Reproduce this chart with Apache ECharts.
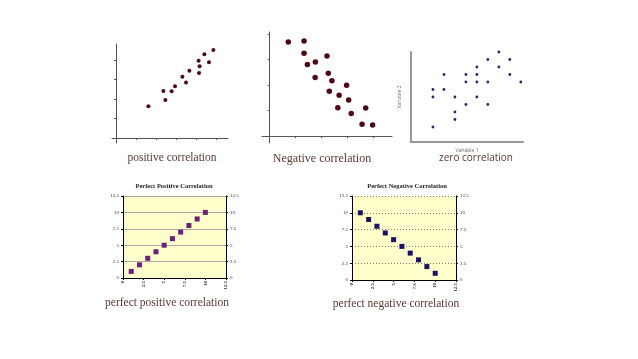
<!DOCTYPE html>
<html><head><meta charset="utf-8">
<script src="https://cdn.jsdelivr.net/npm/echarts@6/dist/echarts.min.js"></script>
<style>html,body{margin:0;padding:0;background:#fff}#c{width:638px;height:359px}</style>
</head><body><div id="c"></div>
<script>
// Chart 1: positive correlation
const posX = [1.62, 2.37, 2.47, 2.78, 2.95, 3.32, 3.50, 3.67, 4.13, 4.15, 4.18, 4.42, 4.65, 4.87];
const posY = [1.63, 2.41, 1.95, 2.39, 2.65, 3.14, 2.84, 3.45, 3.96, 3.33, 3.68, 4.29, 3.88, 4.51];
// Chart 2: negative correlation
const negX = [0.72, 1.33, 1.33, 1.46, 1.77, 1.76, 2.22, 2.27, 2.41, 2.31, 2.69, 2.98, 3.06, 2.64, 3.16, 3.72, 3.58, 3.99];
const negY = [3.69, 3.73, 3.25, 2.81, 2.90, 2.30, 3.14, 2.46, 2.17, 1.76, 1.60, 1.99, 1.42, 1.11, 0.89, 1.10, 0.46, 0.44];
// Chart 3: zero correlation
const zeroX = [8, 7, 9, 3, 5, 6, 8, 6, 9, 5, 6, 7, 10, 2, 3, 2, 4, 6, 5, 7, 4, 4, 2];
const zeroY = [12, 11, 11, 9, 9, 10, 10, 9, 9, 8, 8, 8, 8, 7, 7, 6, 6, 6, 5, 5, 4, 3, 2];
// Charts 4 & 5: perfect correlations
const perfX = [1, 2, 3, 4, 5, 6, 7, 8, 9, 10];
const perfPosY = [1, 2, 3, 4, 5, 6, 7, 8, 9, 10];
const perfNegY = [10, 9, 8, 7, 6, 5, 4, 3, 2, 1];
const perfTicks = [0, 2.5, 5, 7.5, 10, 12.5];
const sketchTicks1X = [1, 2, 3, 4, 5];
const sketchTicks1Y = [1, 2, 3, 4];
const sketchTicks2X = [1, 2, 3, 4];
const sketchTicks2Y = [1, 2, 3, 4];

const labels = {
  pos: 'positive correlation',
  neg: 'Negative correlation',
  zero: 'zero correlation',
  perfPos: 'perfect positive correlation',
  perfNeg: 'perfect negative correlation',
  titlePos: 'Perfect Positive Correlation',
  titleNeg: 'Perfect Negative Correlation',
  var1: 'Variable 1',
  var2: 'Variable 2'
};

const zip = (a, b) => a.map((v, i) => [v, b[i]]);
const textCol = '#5b3a33';
const serif = '"Liberation Serif", "DejaVu Serif", serif';

function sketchAxis(grid, min, max, ticks) {
  return {
    type: 'value', gridIndex: grid, min: min, max: max,
    axisLine: {show: true, onZero: true, lineStyle: {color: '#555', width: 1}},
    axisTick: {show: true, length: 2, inside: false, customValues: ticks, lineStyle: {color: '#555'}},
    axisLabel: {show: false},
    splitLine: {show: false}
  };
}

function perfAxisX(grid) {
  return {
    type: 'value', gridIndex: grid, min: 0, max: 12.5, interval: 2.5,
    axisLine: {show: true, lineStyle: {color: '#000'}},
    axisTick: {show: true, length: 2, lineStyle: {color: '#000'}},
    axisLabel: {show: true, rotate: 90, fontSize: 5, fontFamily: serif, fontWeight: 'bold', color: '#333', margin: 3,
      customValues: perfTicks, formatter: v => String(v)},
    splitLine: {show: false}
  };
}
function perfAxisY(grid, pos, dotted) {
  return {
    type: 'value', gridIndex: grid, min: 0, max: 12.5, interval: 2.5, position: pos,
    axisLine: {show: true, lineStyle: {color: '#000'}},
    axisTick: {show: true, length: 2, lineStyle: {color: '#000'}},
    axisLabel: {show: true, fontSize: 5, fontFamily: serif, color: '#333', margin: 4, customValues: perfTicks, formatter: v => String(v)},
    splitLine: {show: pos === 'left', lineStyle: dotted ? {color: '#777', type: [1, 2], width: 1} : {color: '#aaa', width: 1}}
  };
}

const chart = echarts.init(document.getElementById('c'), null, {renderer: 'canvas'});
chart.setOption({
  animation: false,
  backgroundColor: '#fff',
  grid: [
    {left: 112, top: 44, width: 116, height: 99, outerBoundsMode: 'none'},
    {left: 262, top: 32, width: 130, height: 111, outerBoundsMode: 'none'},
    {left: 411, top: 52, width: 112, height: 90, outerBoundsMode: 'none'},
    {left: 123, top: 196, width: 103, height: 82, show: true, backgroundColor: '#ffffcc', borderWidth: 0, outerBoundsMode: 'none'},
    {left: 352, top: 196, width: 104, height: 84, show: true, backgroundColor: '#ffffcc', borderWidth: 0, outerBoundsMode: 'none'}
  ],
  xAxis: [
    sketchAxis(0, -0.2, 5.6, sketchTicks1X),
    sketchAxis(1, -0.3, 4.74, sketchTicks2X),
    {type: 'value', gridIndex: 2, min: 0, max: 10.2,
      axisLine: {show: true, lineStyle: {color: '#999', width: 2}}, axisTick: {show: false}, axisLabel: {show: false}, splitLine: {show: false},
      name: labels.var1, nameLocation: 'middle', nameGap: 6, nameTextStyle: {fontSize: 5, color: '#666', fontFamily: '"Open Sans", sans-serif'}},
    perfAxisX(3),
    perfAxisX(4)
  ],
  yAxis: [
    sketchAxis(0, -0.26, 4.82, sketchTicks1Y),
    sketchAxis(1, -0.27, 4.08, sketchTicks2Y),
    {type: 'value', gridIndex: 2, min: 0, max: 12,
      axisLine: {show: true, lineStyle: {color: '#999', width: 2}}, axisTick: {show: false}, axisLabel: {show: false}, splitLine: {show: false},
      name: labels.var2, nameLocation: 'middle', nameGap: 9, nameRotate: 90, nameTextStyle: {fontSize: 5, color: '#666', fontFamily: '"Open Sans", sans-serif'}},
    perfAxisY(3, 'left', false),
    perfAxisY(3, 'right', false),
    perfAxisY(4, 'left', true),
    perfAxisY(4, 'right', true)
  ],
  series: [
    {type: 'scatter', xAxisIndex: 0, yAxisIndex: 0, data: zip(posX, posY), symbol: 'circle', symbolSize: 4, itemStyle: {color: '#4e0814', opacity: 1}},
    {type: 'scatter', xAxisIndex: 1, yAxisIndex: 1, data: zip(negX, negY), symbol: 'circle', symbolSize: 5.5, itemStyle: {color: '#4e0814', opacity: 1}},
    {type: 'scatter', xAxisIndex: 2, yAxisIndex: 2, data: zip(zeroX, zeroY), symbol: 'circle', symbolSize: 2.8, itemStyle: {color: '#262a66', opacity: 1}},
    {type: 'scatter', xAxisIndex: 3, yAxisIndex: 3, data: zip(perfX, perfPosY), symbol: 'rect', symbolSize: 5, itemStyle: {color: '#6e1f7c', opacity: 1}},
    {type: 'scatter', xAxisIndex: 4, yAxisIndex: 5, data: zip(perfX, perfNegY), symbol: 'rect', symbolSize: 5, itemStyle: {color: '#1a1260', opacity: 1}}
  ],
  graphic: [
    {type: 'text', x: 172, y: 158, style: {text: labels.pos, font: '11.5px ' + serif, fill: textCol, textAlign: 'center', textVerticalAlign: 'middle'}},
    {type: 'text', x: 322, y: 159, style: {text: labels.neg, font: '12px ' + serif, fill: textCol, textAlign: 'center', textVerticalAlign: 'middle'}},
    {type: 'text', x: 476, y: 158, style: {text: labels.zero, font: '10px "Open Sans", sans-serif', fill: textCol, textAlign: 'center', textVerticalAlign: 'middle'}},
    {type: 'text', x: 174, y: 186.5, style: {text: labels.titlePos, font: 'bold 6.5px ' + serif, fill: '#222', textAlign: 'center', textVerticalAlign: 'middle'}},
    {type: 'text', x: 407, y: 186.5, style: {text: labels.titleNeg, font: 'bold 6.5px ' + serif, fill: '#222', textAlign: 'center', textVerticalAlign: 'middle'}},
    {type: 'text', x: 167, y: 303, style: {text: labels.perfPos, font: '11.5px ' + serif, fill: textCol, textAlign: 'center', textVerticalAlign: 'middle'}},
    {type: 'text', x: 396, y: 304, style: {text: labels.perfNeg, font: '11.5px ' + serif, fill: textCol, textAlign: 'center', textVerticalAlign: 'middle'}}
  ]
});
</script></body></html>
